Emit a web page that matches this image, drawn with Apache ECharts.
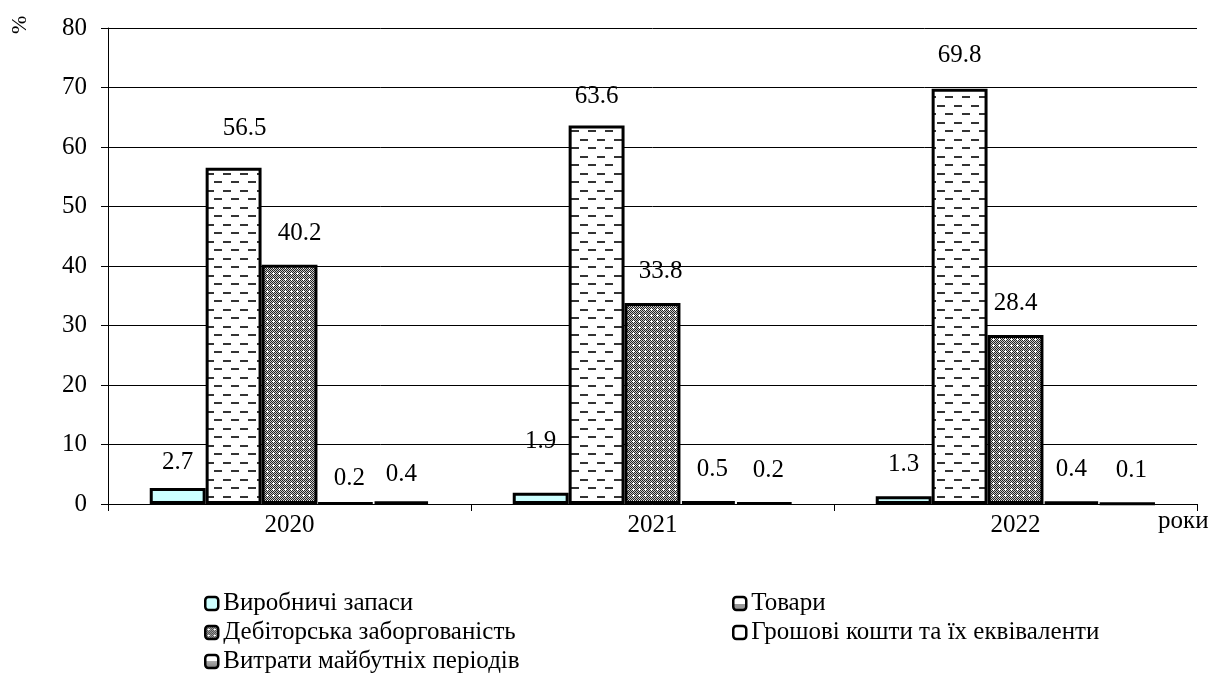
<!DOCTYPE html>
<html>
<head>
<meta charset="utf-8">
<script src="https://cdn.jsdelivr.net/npm/echarts@6/dist/echarts.min.js"></script>
<style>
  html, body { margin: 0; padding: 0; background: #fff; }
  #chart { width: 1212px; height: 679px; }
</style>
</head>
<body>
<div id="chart"></div>
<script>
// Структура оборотних активів, %
const years = ['2020', '2021', '2022'];
const seriesNames = [
  'Виробничі запаси',
  'Товари',
  'Дебіторська заборгованість',
  'Грошові кошти та їх еквіваленти',
  'Витрати майбутніх періодів'
];
const inventory = [2.7, 1.9, 1.3];
const goods = [56.5, 63.6, 69.8];
const receivables = [40.2, 33.8, 28.4];
const cash = [0.2, 0.5, 0.4];
const deferred = [0.4, 0.2, 0.1];
const yTicks = [0, 10, 20, 30, 40, 50, 60, 70, 80];

// label nudges [dx, dy] per series, per year
const labelNudge = [
  [[0, 6], [0, -20], [0, 0]],
  [[11, -8], [0, 2], [0, -2]],
  [[10, 0], [8, 0], [0, 0]],
  [[4, 8], [4, 0], [0, 0]],
  [[0, 5], [4, 0], [4, 0]]
];

const FONT = '"Liberation Serif", "Times New Roman", serif';
const FS = 25;

function makeCanvas(w, h, draw) {
  const c = document.createElement('canvas');
  c.width = w; c.height = h;
  draw(c.getContext('2d'));
  return c;
}

// horizontal dashes, staggered rows
const dashPattern = makeCanvas(17, 17, ctx => {
  ctx.fillStyle = '#fff';
  ctx.fillRect(0, 0, 17, 17);
  ctx.fillStyle = '#333';
  ctx.fillRect(2, 3, 8, 2);
  ctx.fillRect(10, 11, 7, 2);
  ctx.fillRect(0, 11, 1, 2);
});

// dense checker with light crosses
const dotPattern = makeCanvas(6, 6, ctx => {
  for (let y = 0; y < 6; y++) {
    for (let x = 0; x < 6; x++) {
      ctx.fillStyle = (x + y) % 2 === 0 ? '#222' : '#c8c8c8';
      ctx.fillRect(x, y, 1, 1);
    }
  }
  ctx.fillStyle = '#fff';
  ctx.fillRect(3, 2, 1, 3);
  ctx.fillRect(2, 3, 3, 1);
});

const fills = [
  '#ccffff',
  { image: dashPattern, repeat: 'repeat' },
  { image: dotPattern, repeat: 'repeat' },
  '#ffffff',
  '#444444'
];

const legendFills = [
  '#ccffff',
  { type: 'linear', x: 0, y: 0, x2: 0, y2: 1, colorStops: [
    { offset: 0, color: '#fff' }, { offset: 0.55, color: '#fff' },
    { offset: 0.56, color: '#999' }, { offset: 1, color: '#999' }] },
  { image: dotPattern, repeat: 'repeat' },
  '#ffffff',
  { type: 'linear', x: 0, y: 0, x2: 0, y2: 1, colorStops: [
    { offset: 0, color: '#fff' }, { offset: 0.45, color: '#fff' },
    { offset: 0.5, color: '#aaa' }, { offset: 1, color: '#777' }] }
];

const valueSets = [inventory, goods, receivables, cash, deferred];

const series = valueSets.map((vals, si) => ({
  name: seriesNames[si],
  type: 'bar',
  barGap: '0%',
  barCategoryGap: '23%',
  itemStyle: { color: fills[si], borderColor: '#000', borderWidth: 3 },
  label: {
    show: true,
    position: 'top',
    distance: 19,
    fontFamily: FONT,
    fontSize: FS,
    color: '#000',
    formatter: p => p.value.toFixed(1)
  },
  data: vals.map((v, i) => ({
    value: v,
    label: { offset: labelNudge[si][i] }
  }))
}));

function legendData(idxs) {
  return idxs.map(i => ({
    name: seriesNames[i],
    itemStyle: { color: legendFills[i], borderColor: '#000', borderWidth: 2.5 }
  }));
}

const legendCommon = {
  orient: 'vertical',
  icon: 'roundRect',
  itemWidth: 13,
  itemHeight: 13,
  itemGap: 4,
  itemTextGap: 3,
  height: 88,
  padding: 0,
  textStyle: { fontFamily: FONT, fontSize: FS, color: '#000', lineHeight: 22 }
};

const chart = echarts.init(document.getElementById('chart'), null, { renderer: 'canvas' });
chart.setOption({
  backgroundColor: '#fff',
  animation: false,
  grid: { left: 108, right: 15, top: 28, bottom: 175 },
  legend: [
    Object.assign({ left: 204, top: 591, data: legendData([0, 2, 4]) }, legendCommon),
    Object.assign({ left: 732, top: 591, data: legendData([1, 3]) }, legendCommon)
  ],
  xAxis: {
    type: 'category',
    data: years,
    axisLine: { lineStyle: { color: '#000', width: 1 } },
    axisTick: { show: true, length: 7, lineStyle: { color: '#000' } },
    axisLabel: { fontFamily: FONT, fontSize: FS, color: '#000', margin: 9 }
  },
  yAxis: {
    type: 'value',
    min: yTicks[0],
    max: yTicks[yTicks.length - 1],
    interval: yTicks[1] - yTicks[0],
    axisLine: { show: true, lineStyle: { color: '#000', width: 1 } },
    axisTick: { show: true, length: 7, lineStyle: { color: '#000' } },
    splitLine: { show: true, lineStyle: { color: '#000', width: 1 } },
    axisLabel: { fontFamily: FONT, fontSize: FS, color: '#000', margin: 21 }
  },
  graphic: [
    {
      type: 'text',
      x: 9, y: 34,
      rotation: Math.PI / 2,
      style: { text: '%', fontFamily: FONT, fontSize: 22, fill: '#000' }
    },
    {
      type: 'text',
      x: 1158, y: 509,
      style: { text: 'роки', fontFamily: FONT, fontSize: FS, fill: '#000' }
    }
  ],
  series
});
</script>
</body>
</html>
